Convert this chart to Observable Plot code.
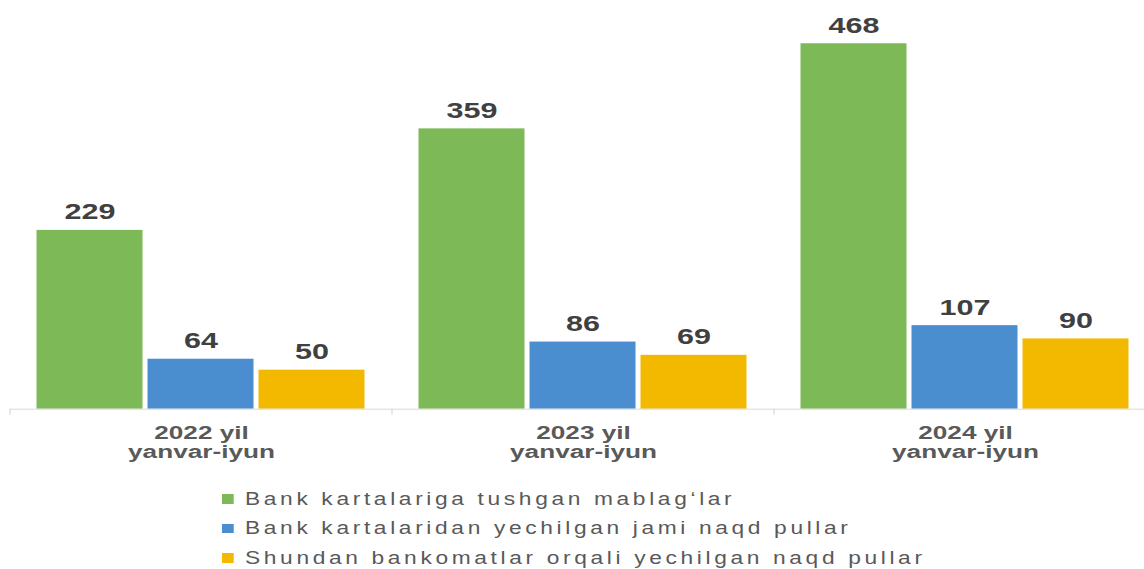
<!DOCTYPE html>
<html>
<head>
<meta charset="utf-8">
<script src="https://cdn.jsdelivr.net/npm/d3@7"></script>
<script src="https://cdn.jsdelivr.net/npm/@observablehq/plot@0.6"></script>
<style>
  html, body { margin: 0; padding: 0; background: #fff; overflow: hidden; }
  body { width: 1144px; height: 569px; font-family: "Liberation Sans", Arial, sans-serif; }
  #chart svg { display: block; }
  #legend {
    margin-left: 222px; margin-top: 6.5px;
    transform: scaleX(1.3); transform-origin: 0 0;
    font-size: 17.5px; color: #595959; letter-spacing: 2.8px; line-height: 29.5px;
    white-space: nowrap;
  }
  .sw { display: inline-block; width: 9.2px; height: 9.5px; margin-right: 8.5px; vertical-align: middle; position: relative; top: -1px; }
</style>
</head>
<body>
<div id="chart"></div>
<div id="legend"></div>
<script>
// ---- data ----
const periods = ["2022 yil\nyanvar-iyun", "2023 yil\nyanvar-iyun", "2024 yil\nyanvar-iyun"];
const series = [
  "Bank kartalariga tushgan mablag‘lar",
  "Bank kartalaridan yechilgan jami naqd pullar",
  "Shundan bankomatlar orqali yechilgan naqd pullar"
];
const cardInflows   = [229, 359, 468];
const cashWithdrawn = [64, 86, 107];
const atmWithdrawn  = [50, 69, 90];
const colors = ["#7db956", "#4a8ecf", "#f2b900"];

const seriesValues = [cardInflows, cashWithdrawn, atmWithdrawn];
const table = periods.flatMap((p, i) =>
  series.map((s, j) => ({period: p, series: s, value: seriesValues[j][i]}))
);

// small tick marks at the left edge of each category (facet)
const boundaryTicks = (index, scales) => {
  const x0 = Math.min(...scales.x.range());
  const y0 = scales.y(0);
  const g = d3.create("svg:g");
  g.append("line")
    .attr("x1", x0).attr("x2", x0)
    .attr("y1", y0).attr("y2", y0 + 6)
    .attr("stroke", "#d0d0d0");
  return g.node();
};

const chart = Plot.plot({
  width: 1144,
  height: 478,
  marginTop: 0,
  marginLeft: 9.5,
  marginRight: -11.5,
  marginBottom: 69.3,
  style: {fontFamily: '"Liberation Sans", Arial, sans-serif', background: "#fff"},
  fx: {domain: periods, padding: 0},
  x: {domain: series, paddingInner: 0.045, paddingOuter: 0.243, axis: null},
  y: {domain: [0, 523.4], axis: null},
  color: {domain: series, range: colors},
  marks: [
    Plot.barY(table, {fx: "period", x: "series", y: "value", fill: "series"}),
    Plot.ruleY([0], {stroke: "#d9d9d9", strokeWidth: 1}),
    boundaryTicks,
    Plot.text(table, {
      fx: "period", x: "series", y: "value",
      text: (d) => String(d.value),
      lineAnchor: "bottom", dy: -11,
      fontSize: 21.8, fontWeight: "bold", fill: "#404040"
    }),
    Plot.axisFx({
      anchor: "bottom", tickSize: 0, tickPadding: 16.5,
      fontSize: 18.7, fontWeight: "bold", color: "#595959",
      lineHeight: 1.02, label: null
    })
  ]
});

// horizontally stretched lettering, as in the reference
chart.querySelectorAll("text").forEach((t) => {
  const tr = t.getAttribute("transform");
  if (tr) {
    t.setAttribute("transform", tr + " scale(1.4,1)");
  } else {
    const x = +t.getAttribute("x") || 0;
    t.setAttribute("x", 0);
    t.setAttribute("transform", `translate(${x},0) scale(1.4,1)`);
  }
});

document.getElementById("chart").appendChild(chart);

// legend
const legend = d3.select("#legend");
series.forEach((s, i) => {
  const row = legend.append("div");
  row.append("span").attr("class", "sw").style("background", colors[i]);
  row.append("span").text(s);
});
</script>
</body>
</html>
